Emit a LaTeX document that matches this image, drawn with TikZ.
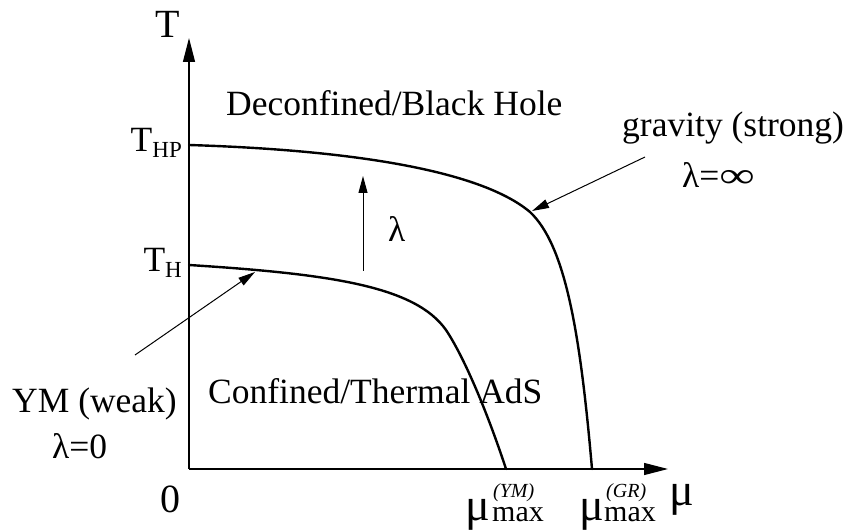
\documentclass[tikz,border=0pt]{standalone}
\usepackage{fontspec}
\setmainfont{Liberation Serif}
\usepackage{graphicx}
\usetikzlibrary{arrows.meta,positioning}

\newcommand{\sizeto}[1]{\fontsize{#1}{#1}\selectfont}
\newcommand{\tsub}[1]{T\raisebox{-6bp}{\sizeto{23bp}#1}}

\begin{document}
\begin{tikzpicture}[
    x=1bp, y=-1bp,
    lbl/.style={inner sep=0pt, anchor=base west, font=\sizeto{35.5bp}},
    big/.style={lbl, font=\sizeto{40bp}},
    greek/.style={lbl, font=\sizeto{46bp}},
    supl/.style={lbl, font=\sizeto{20bp}\itshape},
    subl/.style={lbl, font=\sizeto{30bp}},
    axis/.style={line width=1.3bp, -{Triangle[length=24bp,width=12bp]}},
    curve/.style={line width=2.4bp, line cap=round},
    pointer/.style={line width=1bp, -{Triangle[length=17bp,width=9bp]}}
]
\useasboundingbox (0,0) rectangle (847,531);

% axes
\coordinate (origin) at (189,469);
\coordinate (ytip) at (189,38);
\coordinate (xtip) at (668,469);
\draw[axis] (origin) -- (ytip);
\draw[axis] (origin) -- (xtip);

\node[big] (tlab) at (155,38) {T};
\node[greek] (mulab) at (669,505) {μ};
\node[big] (zero) at (160,512) {0};
\node[lbl, anchor=base east] (thp) at (182,152) {\tsub{HP}};
\node[lbl, anchor=base east] (th) at (182,272) {\tsub{H}};

% end points on the mu axis
\node[greek] (muym) at (465,520) {μ};
\node[supl] (muymsup) at (493,497) {(YM)};
\node[subl] (muymsub) at (492,521) {max};
\node[greek] (mugr) at (579,520) {μ};
\node[supl] (mugrsup) at (606,497) {(GR)};
\node[subl] (mugrsub) at (604,521) {max};

% transition lines
\draw[curve] (189,145) .. controls (350,150) and (480,170) .. (530,212)
    .. controls (565,245) and (580,330) .. (592,469);
\draw[curve] (189,265) .. controls (330,274) and (415,286) .. (446,330)
    .. controls (466,360) and (490,420) .. (506,469);

% phases
\node[lbl] (deconf) at (226,116) {Deconfined/Black Hole};
\node[lbl] (conf) at (208,403) {Confined/Thermal AdS};

% limits
\node[lbl] (grav) at (622,137) {gravity (strong)};
\node[lbl] (laminf) at (682,188) {λ=\scalebox{1.4}[1]{∞}};
\node[lbl] (ym) at (12,412) {YM (weak)};
\node[lbl] (lamzero) at (52,458) {λ=0};
\node[lbl] (lam) at (388,242) {λ};

\coordinate (gravfrom) at (645,157);
\coordinate (gravto) at (532,211);
\coordinate (ymfrom) at (135,355);
\coordinate (ymto) at (255,272);
\coordinate (lamfrom) at (363,271);
\coordinate (lamto) at (363,176);
\draw[pointer] (gravfrom) -- (gravto);
\draw[pointer] (ymfrom) -- (ymto);
\draw[pointer] (lamfrom) -- (lamto);
\end{tikzpicture}
\end{document}
